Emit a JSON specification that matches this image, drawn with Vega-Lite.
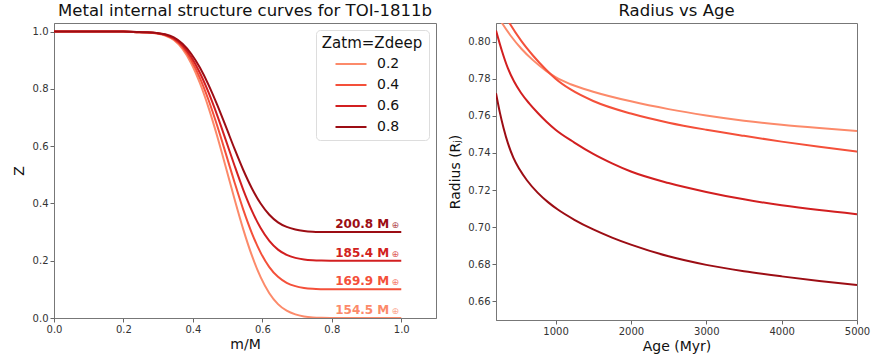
{
  "$schema": "https://vega.github.io/schema/vega-lite/v6.json",
  "padding": {"left": 11, "top": 2, "right": 0, "bottom": 0},
  "config": {
    "font": "DejaVu Sans",
    "view": {"stroke": "#777", "strokeWidth": 1},
    "concat": {"spacing": 11},
    "axis": {
      "grid": false,
      "labelFlush": false,
      "domainColor": "#777",
      "tickColor": "#666",
      "tickSize": 4,
      "labelFontSize": 10,
      "labelColor": "#333",
      "labelPadding": 2,
      "titleFontSize": 14,
      "titleFontWeight": "normal",
      "titleColor": "#111"
    },
    "title": {"fontSize": 16.5, "fontWeight": "normal", "color": "#111", "offset": 4, "frame": "group"},
    "legend": {
      "orient": "top-right",
      "offset": 7,
      "padding": 6,
      "strokeColor": "#dddddd",
      "fillColor": "white",
      "cornerRadius": 4,
      "titleFontSize": 15,
      "titleFontWeight": "normal",
      "titleColor": "#111",
      "titleAnchor": "middle",
      "titlePadding": 6,
      "labelFontSize": 14,
      "labelColor": "#111",
      "labelOffset": 19,
      "rowPadding": 7,
      "symbolStrokeWidth": 2,
      "symbolOffset": 0
    }
  },
  "datasets": {
    "z": [
      {"m":0,"z":1,"c":"0.2"},{"m":0.1,"z":1,"c":"0.2"},{"m":0.2,"z":1,"c":"0.2"},{"m":0.245,"z":0.9975,"c":"0.2"},{"m":0.27,"z":0.9965,"c":"0.2"},{"m":0.295,"z":0.9935,"c":"0.2"},{"m":0.32,"z":0.9865,"c":"0.2"},{"m":0.345,"z":0.9705,"c":"0.2"},{"m":0.37,"z":0.9395,"c":"0.2"},{"m":0.395,"z":0.8895,"c":"0.2"},{"m":0.42,"z":0.8205,"c":"0.2"},{"m":0.445,"z":0.7345,"c":"0.2"},{"m":0.47,"z":0.6345,"c":"0.2"},{"m":0.495,"z":0.5255,"c":"0.2"},{"m":0.52,"z":0.4145,"c":"0.2"},{"m":0.545,"z":0.3095,"c":"0.2"},{"m":0.57,"z":0.2175,"c":"0.2"},{"m":0.595,"z":0.1425,"c":"0.2"},{"m":0.62,"z":0.0865,"c":"0.2"},{"m":0.645,"z":0.0485,"c":"0.2"},{"m":0.67,"z":0.0255,"c":"0.2"},{"m":0.695,"z":0.0125,"c":"0.2"},{"m":0.72,"z":0.0055,"c":"0.2"},{"m":0.745,"z":0.002,"c":"0.2"},{"m":0.77,"z":0.0005,"c":"0.2"},{"m":0.795,"z":0,"c":"0.2"},{"m":0.9,"z":0,"c":"0.2"},{"m":1.0,"z":0,"c":"0.2"},
      {"m":0,"z":1,"c":"0.4"},{"m":0.1,"z":1,"c":"0.4"},{"m":0.2,"z":1,"c":"0.4"},{"m":0.245,"z":0.9978,"c":"0.4"},{"m":0.27,"z":0.9969,"c":"0.4"},{"m":0.295,"z":0.9942,"c":"0.4"},{"m":0.32,"z":0.9879,"c":"0.4"},{"m":0.345,"z":0.9735,"c":"0.4"},{"m":0.37,"z":0.9456,"c":"0.4"},{"m":0.395,"z":0.9006,"c":"0.4"},{"m":0.42,"z":0.8385,"c":"0.4"},{"m":0.445,"z":0.7611,"c":"0.4"},{"m":0.47,"z":0.6711,"c":"0.4"},{"m":0.495,"z":0.573,"c":"0.4"},{"m":0.52,"z":0.4731,"c":"0.4"},{"m":0.545,"z":0.3786,"c":"0.4"},{"m":0.57,"z":0.2958,"c":"0.4"},{"m":0.595,"z":0.2283,"c":"0.4"},{"m":0.62,"z":0.1779,"c":"0.4"},{"m":0.645,"z":0.1437,"c":"0.4"},{"m":0.67,"z":0.123,"c":"0.4"},{"m":0.695,"z":0.1113,"c":"0.4"},{"m":0.72,"z":0.105,"c":"0.4"},{"m":0.745,"z":0.1018,"c":"0.4"},{"m":0.77,"z":0.1005,"c":"0.4"},{"m":0.795,"z":0.1,"c":"0.4"},{"m":0.9,"z":0.1,"c":"0.4"},{"m":1.0,"z":0.1,"c":"0.4"},
      {"m":0,"z":1,"c":"0.6"},{"m":0.1,"z":1,"c":"0.6"},{"m":0.2,"z":1,"c":"0.6"},{"m":0.245,"z":0.998,"c":"0.6"},{"m":0.27,"z":0.9972,"c":"0.6"},{"m":0.295,"z":0.9948,"c":"0.6"},{"m":0.32,"z":0.9892,"c":"0.6"},{"m":0.345,"z":0.9764,"c":"0.6"},{"m":0.37,"z":0.9516,"c":"0.6"},{"m":0.395,"z":0.9116,"c":"0.6"},{"m":0.42,"z":0.8564,"c":"0.6"},{"m":0.445,"z":0.7876,"c":"0.6"},{"m":0.47,"z":0.7076,"c":"0.6"},{"m":0.495,"z":0.6204,"c":"0.6"},{"m":0.52,"z":0.5316,"c":"0.6"},{"m":0.545,"z":0.4476,"c":"0.6"},{"m":0.57,"z":0.374,"c":"0.6"},{"m":0.595,"z":0.314,"c":"0.6"},{"m":0.62,"z":0.2692,"c":"0.6"},{"m":0.645,"z":0.2388,"c":"0.6"},{"m":0.67,"z":0.2204,"c":"0.6"},{"m":0.695,"z":0.21,"c":"0.6"},{"m":0.72,"z":0.2044,"c":"0.6"},{"m":0.745,"z":0.2016,"c":"0.6"},{"m":0.77,"z":0.2004,"c":"0.6"},{"m":0.795,"z":0.2,"c":"0.6"},{"m":0.9,"z":0.2,"c":"0.6"},{"m":1.0,"z":0.2,"c":"0.6"},
      {"m":0,"z":1,"c":"0.8"},{"m":0.1,"z":1,"c":"0.8"},{"m":0.2,"z":1,"c":"0.8"},{"m":0.245,"z":0.9983,"c":"0.8"},{"m":0.27,"z":0.9976,"c":"0.8"},{"m":0.295,"z":0.9955,"c":"0.8"},{"m":0.32,"z":0.9906,"c":"0.8"},{"m":0.345,"z":0.9794,"c":"0.8"},{"m":0.37,"z":0.9577,"c":"0.8"},{"m":0.395,"z":0.9227,"c":"0.8"},{"m":0.42,"z":0.8744,"c":"0.8"},{"m":0.445,"z":0.8142,"c":"0.8"},{"m":0.47,"z":0.7442,"c":"0.8"},{"m":0.495,"z":0.6679,"c":"0.8"},{"m":0.52,"z":0.5902,"c":"0.8"},{"m":0.545,"z":0.5167,"c":"0.8"},{"m":0.57,"z":0.4523,"c":"0.8"},{"m":0.595,"z":0.3998,"c":"0.8"},{"m":0.62,"z":0.3606,"c":"0.8"},{"m":0.645,"z":0.334,"c":"0.8"},{"m":0.67,"z":0.3179,"c":"0.8"},{"m":0.695,"z":0.3088,"c":"0.8"},{"m":0.72,"z":0.3039,"c":"0.8"},{"m":0.745,"z":0.3014,"c":"0.8"},{"m":0.77,"z":0.3004,"c":"0.8"},{"m":0.795,"z":0.3,"c":"0.8"},{"m":0.9,"z":0.3,"c":"0.8"},{"m":1.0,"z":0.3,"c":"0.8"}
    ],
    "labels": [
      {"m":1.0,"z":0,"c":"0.2","label":"154.5 M"},
      {"m":1.0,"z":0.1,"c":"0.4","label":"169.9 M"},
      {"m":1.0,"z":0.2,"c":"0.6","label":"185.4 M"},
      {"m":1.0,"z":0.3,"c":"0.8","label":"200.8 M"}
    ],
    "r": [
      {"age":210,"r":0.8154,"c":"0.2"},{"age":300,"r":0.8093,"c":"0.2"},{"age":400,"r":0.8034,"c":"0.2"},{"age":550,"r":0.796,"c":"0.2"},{"age":700,"r":0.79,"c":"0.2"},{"age":875,"r":0.7842,"c":"0.2"},{"age":1000,"r":0.7808,"c":"0.2"},{"age":1200,"r":0.777,"c":"0.2"},{"age":1500,"r":0.773,"c":"0.2"},{"age":2000,"r":0.7678,"c":"0.2"},{"age":2500,"r":0.7636,"c":"0.2"},{"age":3000,"r":0.7602,"c":"0.2"},{"age":3500,"r":0.7574,"c":"0.2"},{"age":4000,"r":0.7552,"c":"0.2"},{"age":4500,"r":0.7534,"c":"0.2"},{"age":5000,"r":0.7518,"c":"0.2"},
      {"age":210,"r":0.822,"c":"0.4"},{"age":300,"r":0.816,"c":"0.4"},{"age":388,"r":0.81,"c":"0.4"},{"age":543,"r":0.8005,"c":"0.4"},{"age":700,"r":0.7925,"c":"0.4"},{"age":875,"r":0.7848,"c":"0.4"},{"age":1000,"r":0.78,"c":"0.4"},{"age":1200,"r":0.7742,"c":"0.4"},{"age":1500,"r":0.768,"c":"0.4"},{"age":2000,"r":0.7612,"c":"0.4"},{"age":2500,"r":0.7563,"c":"0.4"},{"age":3000,"r":0.7525,"c":"0.4"},{"age":3500,"r":0.7492,"c":"0.4"},{"age":4000,"r":0.7461,"c":"0.4"},{"age":4500,"r":0.7433,"c":"0.4"},{"age":5000,"r":0.7407,"c":"0.4"},
      {"age":210,"r":0.806,"c":"0.6"},{"age":290,"r":0.7948,"c":"0.6"},{"age":366,"r":0.7858,"c":"0.6"},{"age":450,"r":0.7785,"c":"0.6"},{"age":543,"r":0.7723,"c":"0.6"},{"age":650,"r":0.7667,"c":"0.6"},{"age":765,"r":0.7615,"c":"0.6"},{"age":880,"r":0.7568,"c":"0.6"},{"age":1000,"r":0.7525,"c":"0.6"},{"age":1250,"r":0.7456,"c":"0.6"},{"age":1500,"r":0.7395,"c":"0.6"},{"age":1750,"r":0.7344,"c":"0.6"},{"age":2000,"r":0.73,"c":"0.6"},{"age":2500,"r":0.7238,"c":"0.6"},{"age":3000,"r":0.719,"c":"0.6"},{"age":3500,"r":0.715,"c":"0.6"},{"age":4000,"r":0.7118,"c":"0.6"},{"age":4500,"r":0.7092,"c":"0.6"},{"age":5000,"r":0.707,"c":"0.6"},
      {"age":210,"r":0.7722,"c":"0.8"},{"age":260,"r":0.762,"c":"0.8"},{"age":310,"r":0.7535,"c":"0.8"},{"age":370,"r":0.745,"c":"0.8"},{"age":440,"r":0.7375,"c":"0.8"},{"age":520,"r":0.7313,"c":"0.8"},{"age":620,"r":0.7253,"c":"0.8"},{"age":765,"r":0.7185,"c":"0.8"},{"age":900,"r":0.7135,"c":"0.8"},{"age":1030,"r":0.7095,"c":"0.8"},{"age":1250,"r":0.704,"c":"0.8"},{"age":1500,"r":0.6988,"c":"0.8"},{"age":1750,"r":0.6944,"c":"0.8"},{"age":2000,"r":0.6906,"c":"0.8"},{"age":2500,"r":0.6843,"c":"0.8"},{"age":3000,"r":0.6797,"c":"0.8"},{"age":3500,"r":0.6763,"c":"0.8"},{"age":4000,"r":0.6735,"c":"0.8"},{"age":4500,"r":0.671,"c":"0.8"},{"age":5000,"r":0.6688,"c":"0.8"}
    ]
  },
  "hconcat": [
    {
      "width": 382,
      "height": 295,
      "title": "Metal internal structure curves for TOI-1811b",
      "layer": [
        {
          "data": {"name": "z"},
          "mark": {"type": "line", "interpolate": "monotone", "strokeWidth": 2, "clip": true},
          "encoding": {
            "x": {"field": "m", "type": "quantitative", "scale": {"domain": [0, 1.1], "nice": false}, "title": "m/M",
                  "axis": {"values": [0, 0.2, 0.4, 0.6, 0.8, 1.0], "format": ".1f", "titlePadding": 3}},
            "y": {"field": "z", "type": "quantitative", "scale": {"domain": [0, 1.03], "nice": false}, "title": "Z",
                  "axis": {"values": [0, 0.2, 0.4, 0.6, 0.8, 1.0], "format": ".1f", "titlePadding": 6}},
            "color": {"field": "c", "type": "nominal", "title": "Zatm=Zdeep",
                      "scale": {"domain": ["0.2", "0.4", "0.6", "0.8"], "range": ["#fc8a6a", "#f4503a", "#d21f20", "#9c0d14"]},
                      "legend": {"symbolType": "M-3.1,0H3.1", "symbolSize": 100}},
            "detail": {"field": "c"}
          }
        },
        {
          "data": {"name": "labels"},
          "mark": {"type": "text", "align": "right", "baseline": "alphabetic", "dx": -12, "dy": -4, "fontSize": 12, "fontWeight": "bold"},
          "encoding": {
            "x": {"field": "m", "type": "quantitative"},
            "y": {"field": "z", "type": "quantitative"},
            "text": {"field": "label"},
            "color": {"field": "c", "type": "nominal", "legend": null,
                      "scale": {"domain": ["0.2", "0.4", "0.6", "0.8"], "range": ["#fc8a6a", "#f4503a", "#d21f20", "#9c0d14"]}}
          }
        },
        {
          "data": {"name": "labels"},
          "mark": {"type": "text", "align": "center", "baseline": "alphabetic", "dx": -6, "dy": -4, "fontSize": 9, "opacity": 0.75, "text": "⊕"},
          "encoding": {
            "x": {"field": "m", "type": "quantitative"},
            "y": {"field": "z", "type": "quantitative"},
            "color": {"field": "c", "type": "nominal", "legend": null,
                      "scale": {"domain": ["0.2", "0.4", "0.6", "0.8"], "range": ["#fc8a6a", "#f4503a", "#d21f20", "#9c0d14"]}}
          }
        }
      ],
      "resolve": {"scale": {"color": "independent"}, "legend": {"color": "independent"}}
    },
    {
      "width": 361,
      "height": 297,
      "title": "Radius vs Age",
      "data": {"name": "r"},
      "mark": {"type": "line", "interpolate": "monotone", "strokeWidth": 2, "clip": true},
      "encoding": {
        "x": {"field": "age", "type": "quantitative", "scale": {"domain": [210, 5000], "nice": false, "zero": false}, "title": "Age (Myr)",
              "axis": {"values": [1000, 2000, 3000, 4000, 5000], "format": "d", "titlePadding": 3}},
        "y": {"field": "r", "type": "quantitative", "scale": {"domain": [0.65, 0.81], "nice": false, "zero": false}, "title": "Radius (Rⱼ)",
              "axis": {"values": [0.66, 0.68, 0.7, 0.72, 0.74, 0.76, 0.78, 0.8], "format": ".2f", "titlePadding": 5}},
        "color": {"field": "c", "type": "nominal", "legend": null,
                  "scale": {"domain": ["0.2", "0.4", "0.6", "0.8"], "range": ["#fc8a6a", "#f4503a", "#d21f20", "#9c0d14"]}}
      }
    }
  ],
  "resolve": {"scale": {"color": "independent"}, "legend": {"color": "independent"}}
}
